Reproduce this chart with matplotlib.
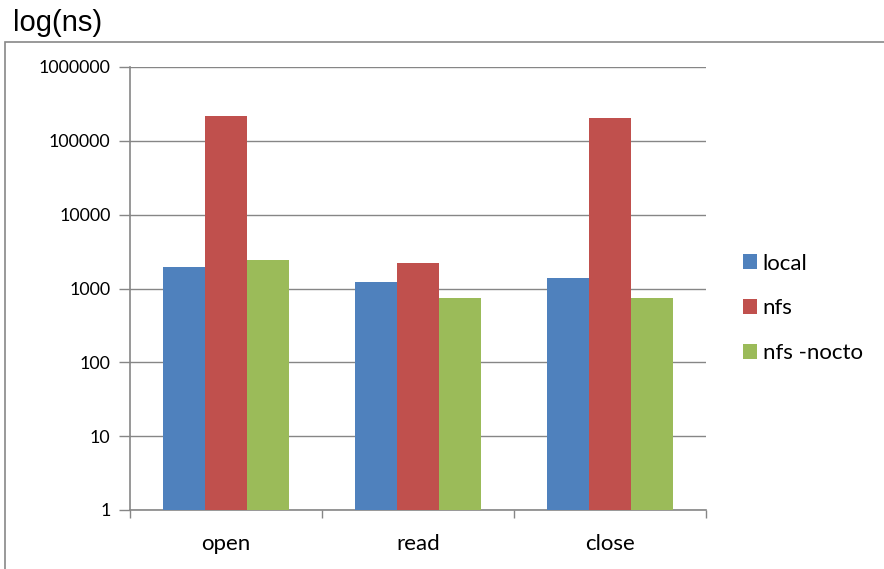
import matplotlib.pyplot as plt
from matplotlib.patches import Rectangle
import numpy as np

categories = ['open', 'read', 'close']
series = ['local', 'nfs', 'nfs -nocto']
local = [1950, 1230, 1390]
nfs = [218000, 2220, 205000]
nocto = [2450, 740, 740]
colors = ['#4f81bd', '#c0504d', '#9bbb59']
yticks = [1, 10, 100, 1000, 10000, 100000, 1000000]

plt.rcParams['font.family'] = ['Lato', 'DejaVu Sans']

fig = plt.figure(figsize=(8.84, 5.69), dpi=100)
ax = fig.add_axes([130/884, 59/569, 576/884, 443/569])

# outer chart border, like the excel chart frame
fig.patches.append(Rectangle((5/884, -0.01), 1.0, (569-42)/569 + 0.01, transform=fig.transFigure,
                             fill=False, edgecolor='#888888', linewidth=1.2))
fig.text(13/884, 1 - 23/569, 'log(ns)', fontsize=21, family='Liberation Sans', va='center', ha='left')

x = np.arange(len(categories))
w = 0.22
for k, (vals, lab) in enumerate(zip([local, nfs, nocto], series)):
    ax.bar(x + (k - 1) * w, vals, w, color=colors[k], label=lab, zorder=3)

ax.set_yscale('log')
ax.set_ylim(1, 1000000)
ax.set_xlim(-0.5, 2.5)
ax.set_yticks(yticks)
ax.set_yticklabels([str(v) for v in yticks], fontsize=12.8)
ax.minorticks_off()
ax.yaxis.grid(True, color='#868686', linewidth=1, zorder=0)
ax.set_xticks(x)
ax.set_xticklabels(categories, fontsize=16)
ax.set_xticks([-0.5, 0.5, 1.5, 2.5], minor=True)
ax.tick_params(axis='x', which='major', length=0, pad=17)
ax.tick_params(axis='x', which='minor', length=6, color='#868686', width=1)
ax.tick_params(axis='y', length=8, color='#868686', width=1, pad=6)
for s in ['top', 'right']:
    ax.spines[s].set_visible(False)
for s in ['left', 'bottom']:
    ax.spines[s].set_color('#868686')
    ax.spines[s].set_linewidth(1.2)

ax.legend(loc='center left', bbox_to_anchor=(613/576, 0.455), frameon=False, fontsize=16,
          borderpad=0, borderaxespad=0,
          handlelength=0.64, handleheight=0.64, handletextpad=0.25, labelspacing=1.12)

fig.savefig('out.png', dpi=100)
